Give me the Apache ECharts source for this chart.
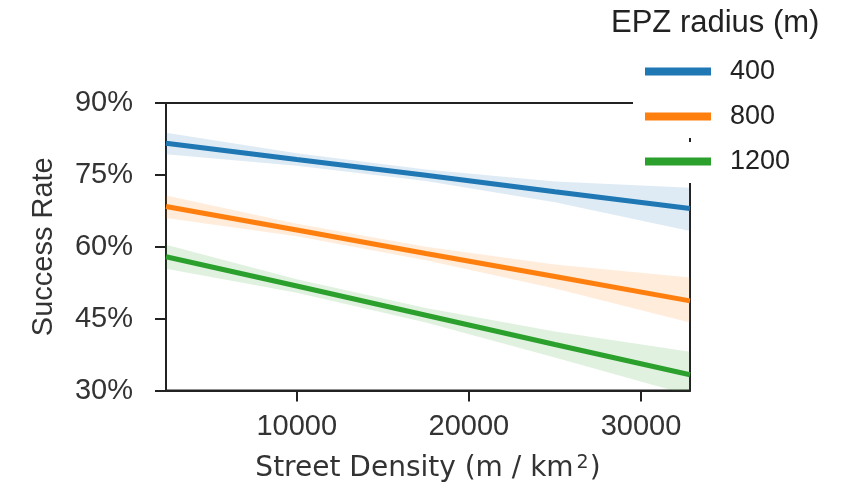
<!DOCTYPE html>
<html>
<head>
<meta charset="utf-8">
<script src="https://cdn.jsdelivr.net/npm/echarts@6/dist/echarts.min.js"></script>
<style>html,body{margin:0;padding:0;background:#fff;}#c{width:849px;height:488px;}</style>
</head>
<body>
<div id="c"></div>
<script>
// Street density sample points (m/km^2)
var density = [2400, 10000, 17500, 25000, 32850];
// Fitted success rate (%) per EPZ radius
var fit400  = [81.6, 78.2, 74.9, 71.5, 68.0];
var fit800  = [68.4, 63.5, 58.6, 53.8, 48.7];
var fit1200 = [57.9, 51.8, 45.7, 39.6, 33.3];
// Confidence bands (%)
var lo400  = [79.3, 76.9, 73.7, 69.3, 63.3];
var hi400  = [83.8, 79.5, 76.1, 73.6, 72.3];
var lo800  = [66.0, 62.2, 57.2, 51.3, 44.2];
var hi800  = [70.7, 64.8, 60.0, 56.3, 53.6];
var lo1200 = [55.4, 50.4, 44.2, 36.9, 29.0];
var hi1200 = [60.4, 53.2, 47.2, 42.3, 38.1];
var radii = ['400', '800', '1200'];
var xTicks = [10000, 20000, 30000];

var colors = ['#1f77b4', '#ff7f0e', '#2ca02c'];
var fits = [fit400, fit800, fit1200];
var los = [lo400, lo800, lo1200];
var his = [hi400, hi800, hi1200];

function pairs(arr) { return density.map(function (x, i) { return [x, arr[i]]; }); }

var series = [];
radii.forEach(function (r, k) {
  series.push({
    name: 'band_' + r, type: 'custom', clip: true, silent: true, z: 1,
    data: [[0]],
    renderItem: function (params, api) {
      var pts = [];
      for (var i = 0; i < density.length; i++) pts.push(api.coord([density[i], his[k][i]]));
      for (var j = density.length - 1; j >= 0; j--) pts.push(api.coord([density[j], los[k][j]]));
      return { type: 'polygon', shape: { points: pts }, style: { fill: colors[k], opacity: 0.15 } };
    }
  });
});
radii.forEach(function (r, k) {
  series.push({
    name: r, type: 'line', data: pairs(fits[k]), showSymbol: false,
    lineStyle: { color: colors[k], width: 5 }, itemStyle: { color: colors[k] }, z: 2
  });
});

var textColor = '#333333';
var font = 'Liberation Sans';
var chart = echarts.init(document.getElementById('c'));
chart.setOption({
  animation: false,
  backgroundColor: '#ffffff',
  grid: { left: 166, right: 159, top: 103, bottom: 96, show: true, borderColor: '#222', borderWidth: 2, backgroundColor: 'transparent' },
  xAxis: {
    type: 'value', min: 2400, max: 32850,
    name: 'Street Density (m / km{sup|2})', nameLocation: 'middle', nameGap: 63,
    nameTextStyle: { fontFamily: 'DejaVu Sans', fontSize: 28, color: textColor, rich: { sup: { fontSize: 19, verticalAlign: 'top', padding: [0, 1, 12, 3], fontFamily: 'DejaVu Sans', color: textColor } } },
    axisLine: { show: true, lineStyle: { color: '#222', width: 2 } },
    axisTick: { show: true, length: 11, lineStyle: { color: '#222', width: 2 }, customValues: xTicks },
    axisLabel: { fontFamily: font, fontSize: 29, color: textColor, margin: 22, customValues: xTicks, formatter: function (v) { return String(v); } },
    splitLine: { show: false }
  },
  yAxis: {
    type: 'value', min: 30, max: 90, interval: 15,
    name: 'Success Rate', nameLocation: 'middle', nameGap: 108, nameRotate: 90,
    nameTextStyle: { fontFamily: font, fontSize: 29, color: textColor },
    axisLine: { show: true, lineStyle: { color: '#222', width: 2 } },
    axisTick: { show: true, length: 11, lineStyle: { color: '#222', width: 2 } },
    axisLabel: { fontFamily: font, fontSize: 29, color: textColor, margin: 33, formatter: '{value}%' },
    splitLine: { show: false }
  },
  graphic: [
    { type: 'rect', shape: { x: 633, y: 0, width: 216, height: 138 }, style: { fill: '#fff' }, z: 3, silent: true },
    { type: 'rect', shape: { x: 633, y: 142, width: 216, height: 41 }, style: { fill: '#fff' }, z: 3, silent: true },
    { type: 'rect', shape: { x: 692, y: 136, width: 157, height: 10 }, style: { fill: '#fff' }, z: 3, silent: true },
    { type: 'text', left: 611, top: 8, style: { text: 'EPZ radius (m)', fontFamily: font, fontSize: 31, fill: '#222' }, z: 6 }
  ],
  legend: {
    data: radii, orient: 'vertical', left: 640, top: 53, itemGap: 18,
    icon: 'rect', itemWidth: 66, itemHeight: 8,
    textStyle: { fontFamily: font, fontSize: 27, color: '#222', padding: [0, 0, 0, 14] },
    z: 5, selectedMode: false
  },
  series: series
});
</script>
</body>
</html>
